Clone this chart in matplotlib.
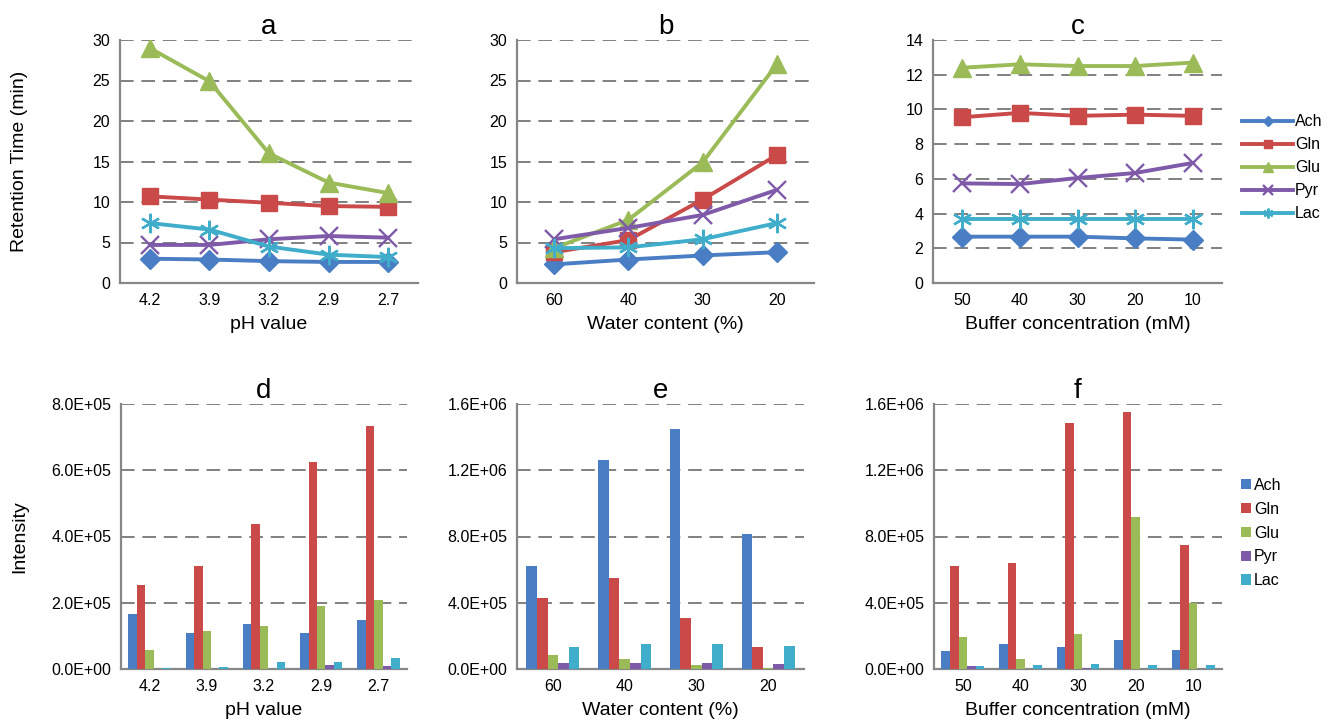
import matplotlib
matplotlib.use("Agg")
import matplotlib.pyplot as plt
import numpy as np
from matplotlib.ticker import FuncFormatter, MultipleLocator

plt.rcParams['font.family'] = ['Liberation Sans', 'DejaVu Sans']

series = ["Ach", "Gln", "Glu", "Pyr", "Lac"]
colors = ["#4A7EC4", "#C94A48", "#9BBB59", "#7F5AA8", "#40AECB"]

# ---- retention time data ----
ph_labels = ["4.2", "3.9", "3.2", "2.9", "2.7"]
water_labels = ["60", "40", "30", "20"]
buffer_labels = ["50", "40", "30", "20", "10"]

rt_ph = {
    "Ach": [3.0, 2.9, 2.7, 2.6, 2.6],
    "Gln": [10.7, 10.3, 9.9, 9.5, 9.4],
    "Glu": [29.0, 24.9, 16.0, 12.4, 11.1],
    "Pyr": [4.7, 4.7, 5.4, 5.8, 5.6],
    "Lac": [7.4, 6.6, 4.5, 3.5, 3.2],
}
rt_water = {
    "Ach": [2.3, 2.9, 3.4, 3.8],
    "Gln": [3.8, 5.3, 10.3, 15.8],
    "Glu": [4.3, 7.8, 14.9, 27.0],
    "Pyr": [5.4, 6.8, 8.4, 11.5],
    "Lac": [4.3, 4.4, 5.4, 7.4],
}
rt_buffer = {
    "Ach": [2.67, 2.67, 2.67, 2.57, 2.5],
    "Gln": [9.55, 9.8, 9.63, 9.7, 9.63],
    "Glu": [12.4, 12.6, 12.5, 12.5, 12.7],
    "Pyr": [5.74, 5.7, 6.05, 6.34, 6.92],
    "Lac": [3.67, 3.67, 3.67, 3.67, 3.67],
}

# ---- intensity data ----
int_ph = {
    "Ach": [167e3, 109e3, 136e3, 108e3, 148e3],
    "Gln": [255e3, 311e3, 437e3, 625e3, 733e3],
    "Glu": [58e3, 114e3, 130e3, 190e3, 207e3],
    "Pyr": [1e3, 1e3, 1e3, 13e3, 9e3],
    "Lac": [4e3, 6e3, 21e3, 20e3, 34e3],
}
int_water = {
    "Ach": [621e3, 1263e3, 1452e3, 814e3],
    "Gln": [427e3, 549e3, 307e3, 132e3],
    "Glu": [84e3, 58e3, 24e3, 8e3],
    "Pyr": [38e3, 38e3, 38e3, 32e3],
    "Lac": [130e3, 148e3, 148e3, 140e3],
}
int_buffer = {
    "Ach": [110e3, 153e3, 133e3, 173e3, 117e3],
    "Gln": [621e3, 639e3, 1487e3, 1553e3, 746e3],
    "Glu": [191e3, 62e3, 209e3, 920e3, 400e3],
    "Pyr": [16e3, 1e3, 8e3, 1e3, 1e3],
    "Lac": [20e3, 26e3, 30e3, 26e3, 26e3],
}

W, H = 1329, 726
fig = plt.figure(figsize=(W / 100, H / 100), dpi=100)


def add_ax(x0, x1, y0, y1):
    return fig.add_axes([x0 / W, 1 - y1 / H, (x1 - x0) / W, (y1 - y0) / H])


spine_c = "#878787"
grid_c = "#808080"
markers = {"Ach": "D", "Gln": "s", "Glu": "^", "Pyr": "x", "Lac": (6, 2, 0)}
msizes = {"Ach": 10, "Gln": 12, "Glu": 13, "Pyr": 13, "Lac": 14}


def style(ax, ymax, step, labels, xlabel, title, fmt=None):
    n = len(labels)
    ax.set_xlim(-0.5, n - 0.5)
    ax.set_ylim(0, ymax)
    ax.yaxis.set_major_locator(MultipleLocator(step))
    ax.set_xticks(range(n))
    ax.set_xticklabels(labels)
    for s in ["top", "right"]:
        ax.spines[s].set_visible(False)
    for s in ["left", "bottom"]:
        ax.spines[s].set_color(spine_c)
        ax.spines[s].set_linewidth(1.6)
    ax.tick_params(length=0, labelsize=11.5, pad=7)
    for v in np.arange(step, ymax + step / 2, step):
        ax.axhline(v, color=grid_c, lw=1.4, dashes=(7, 4), zorder=0)
    ax.set_xlabel(xlabel, fontsize=14, labelpad=6)
    ax.set_title(title, fontsize=20, pad=3)
    if fmt:
        ax.yaxis.set_major_formatter(FuncFormatter(fmt))


def line_panel(ax, data, labels):
    x = np.arange(len(labels))
    for s, c in zip(series, colors):
        mk = markers[s]
        kw = dict(color=c, lw=2.8, marker=mk, markersize=msizes[s], label=s, zorder=3)
        if s in ("Pyr", "Lac"):
            kw.update(markeredgewidth=1.7)
        ax.plot(x, data[s], **kw)


def bar_panel(ax, data, labels):
    x = np.arange(len(labels))
    bw = 0.148
    for i, (s, c) in enumerate(zip(series, colors)):
        ax.bar(x + (i - 2) * bw, data[s], width=bw, color=c, label=s, zorder=3)


ax_a = add_ax(120, 418, 40, 283)
ax_b = add_ax(517, 814, 40, 283)
ax_c = add_ax(933, 1222, 40, 283)
ax_d = add_ax(121, 407, 404, 669)
ax_e = add_ax(517, 804, 404, 669)
ax_f = add_ax(934, 1222, 404, 669)

line_panel(ax_a, rt_ph, ph_labels)
style(ax_a, 30, 5, ph_labels, "pH value", "a")
ax_a.set_ylabel("Retention Time (min)", fontsize=14)
ax_a.yaxis.set_label_coords((28 - 120) / 298, 0.5)

line_panel(ax_b, rt_water, water_labels)
style(ax_b, 30, 5, water_labels, "Water content (%)", "b")

line_panel(ax_c, rt_buffer, buffer_labels)
style(ax_c, 14, 2, buffer_labels, "Buffer concentration (mM)", "c")
ax_c.legend(loc="upper left", bbox_to_anchor=(1.048, 0.72), frameon=False,
            fontsize=11.5, handlelength=3.2, handletextpad=0.1,
            labelspacing=0.5, borderaxespad=0, markerscale=0.5)

efmt = lambda v, p: f"{v:.1E}"
bar_panel(ax_d, int_ph, ph_labels)
style(ax_d, 8e5, 2e5, ph_labels, "pH value", "d", efmt)
ax_d.set_ylabel("Intensity", fontsize=14)
ax_d.yaxis.set_label_coords((28 - 121) / 286, 0.5)

bar_panel(ax_e, int_water, water_labels)
style(ax_e, 1.6e6, 4e5, water_labels, "Water content (%)", "e", efmt)

bar_panel(ax_f, int_buffer, buffer_labels)
style(ax_f, 1.6e6, 4e5, buffer_labels, "Buffer concentration (mM)", "f", efmt)
ax_f.legend(loc="upper left", bbox_to_anchor=(1.045, 0.745), frameon=False,
            fontsize=11.5, handlelength=0.6, handleheight=0.6, handletextpad=0.2,
            labelspacing=0.55, borderaxespad=0)

fig.savefig("out.png", dpi=100)
